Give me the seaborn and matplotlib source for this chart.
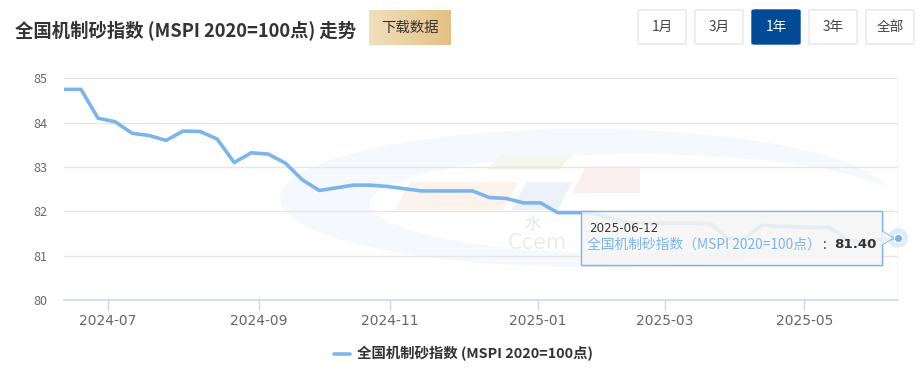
import numpy as np
import pandas as pd
import matplotlib
matplotlib.use("Agg")
import matplotlib.pyplot as plt
import seaborn as sns
from matplotlib.patches import FancyBboxPatch, Polygon, Ellipse
from matplotlib.colors import LinearSegmentedColormap

# ---------------- data ----------------
dates = pd.to_datetime([
    "2024-06-13", "2024-06-20", "2024-06-27", "2024-07-04", "2024-07-11", "2024-07-18",
    "2024-07-25", "2024-08-01", "2024-08-08", "2024-08-15", "2024-08-22", "2024-08-29",
    "2024-09-05", "2024-09-12", "2024-09-19", "2024-09-26", "2024-10-10", "2024-10-17",
    "2024-10-24", "2024-10-31", "2024-11-07", "2024-11-14", "2024-11-21", "2024-11-28",
    "2024-12-05", "2024-12-12", "2024-12-19", "2024-12-26", "2025-01-02", "2025-01-09",
    "2025-01-16", "2025-01-23", "2025-02-06", "2025-02-13", "2025-02-20", "2025-02-27",
    "2025-03-06", "2025-03-13", "2025-03-20", "2025-03-27", "2025-04-03", "2025-04-10",
    "2025-04-17", "2025-04-24", "2025-05-08", "2025-05-15", "2025-05-22", "2025-05-29",
    "2025-06-05", "2025-06-12",
])
values = [
    84.75, 84.75, 84.10, 84.02, 83.76, 83.71, 83.60, 83.81, 83.80, 83.63,
    83.10, 83.32, 83.29, 83.09, 82.71, 82.47, 82.53, 82.59, 82.59, 82.56,
    82.51, 82.46, 82.46, 82.46, 82.46, 82.31, 82.29, 82.19, 82.19, 81.97,
    81.97, 81.97, 81.85, 81.75, 81.73, 81.73, 81.73, 81.73, 81.72, 81.39,
    81.39, 81.69, 81.66, 81.65, 81.64, 81.63, 81.36, 81.30, 81.37, 81.40,
]
month_ticks = pd.to_datetime(["2024-07-01", "2024-09-01", "2024-11-01",
                              "2025-01-01", "2025-03-01", "2025-05-01"])
y_ticks = [80, 81, 82, 83, 84, 85]
series_name = "全国机制砂指数 (MSPI 2020=100点)"
tooltip_name = "全国机制砂指数（MSPI 2020=100点）"
title_text = "全国机制砂指数 (MSPI 2020=100点) 走势"
range_buttons = ["1月", "3月", "1年", "3年", "全部"]
active_button = "1年"

# ---------------- style ----------------
W, H = 921, 371
sns.set_theme(style="white")
plt.rcParams["font.family"] = ["Noto Sans CJK SC", "DejaVu Sans"]

LINE = "#7cb5ec"
fig = plt.figure(figsize=(W / 100, H / 100), dpi=100)


def fx(x):
    return x / W


def fy(y):
    return 1 - y / H


ax = fig.add_axes([fx(64), fy(300), fx(898) - fx(64), fy(78.3) - fy(300)])
ax.set_facecolor("none")

idx = np.arange(len(values))
df = pd.DataFrame({"idx": idx, "value": values, "date": dates})

# ---- faint watermark (behind) ----
wm_z = -5
fig.patches.append(Ellipse((fx(585), fy(198)), fx(610), fy(0) - fy(138),
                           transform=fig.transFigure, facecolor="#f5f8fc",
                           edgecolor="none", zorder=wm_z))
fig.patches.append(Ellipse((fx(635), fy(204)), fx(530), fy(0) - fy(100),
                           transform=fig.transFigure, facecolor="white",
                           edgecolor="none", zorder=wm_z))
for pts, col in [
    ([(487, 170), (500, 155), (572, 155), (558, 170)], "#f3f6ec"),
    ([(395, 210), (410, 182), (518, 182), (503, 210)], "#fdf3ed"),
    ([(512, 210), (526, 182), (572, 182), (558, 210)], "#edf1f8"),
    ([(572, 193), (585, 168), (640, 168), (640, 193)], "#fcefef"),
]:
    fig.patches.append(Polygon([(fx(a), fy(b)) for a, b in pts], closed=True,
                               transform=fig.transFigure, facecolor=col,
                               edgecolor="none", zorder=wm_z))
fig.text(fx(533), fy(224), "水", fontsize=12, color="#e3e7ed", ha="center",
         va="center", zorder=wm_z)
fig.text(fx(508), fy(243), "Ccem", fontsize=15, color="#ececec", ha="left",
         va="center", zorder=wm_z, family=["DejaVu Sans"])

# ---- line ----
sns.lineplot(data=df, x="idx", y="value", ax=ax, color=LINE, linewidth=2.6,
             label=series_name, legend=False, zorder=3, solid_joinstyle="round")

ax.set_xlim(idx[0], idx[-1])
ax.set_ylim(y_ticks[0], y_ticks[-1])
ax.set_yticks(y_ticks)
ax.set_yticklabels([str(v) for v in y_ticks])

tick_pos = np.interp(month_ticks.map(pd.Timestamp.toordinal),
                     dates.map(pd.Timestamp.toordinal), idx)
ax.set_xticks(tick_pos)
ax.set_xticklabels([d.strftime("%Y-%m") for d in month_ticks])
ax.set_xlabel("")
ax.set_ylabel("")

ax.grid(axis="y", color="#e6e6e6", linewidth=1)
ax.grid(axis="x", visible=False)
for s in ["top", "right", "left"]:
    ax.spines[s].set_visible(False)
ax.spines["bottom"].set_color("#ccd6eb")
ax.spines["bottom"].set_linewidth(1.2)
ax.tick_params(axis="x", length=7, width=1, color="#ccd6eb", pad=3,
               labelsize=8.8, labelcolor="#666666", bottom=True)
ax.tick_params(axis="y", length=0, pad=12, labelsize=9, labelcolor="#666666")
for lab in ax.get_xticklabels():
    lab.set_family(["Liberation Sans Narrow", "DejaVu Sans"])
    lab.set_fontsize(10)

ax.axvline(idx[-1], color="#d6dce6", linewidth=1, zorder=2)

ax.scatter([idx[-1]], [values[-1]], s=200, color=LINE, alpha=0.25,
           edgecolors="none", zorder=6, clip_on=False)
ax.scatter([idx[-1]], [values[-1]], s=38, color=LINE, edgecolors="white",
           linewidths=1, zorder=7, clip_on=False)

# ---- tooltip ----
tx0, ty0, tx1, ty1 = 581, 211, 882, 265
fig.patches.append(FancyBboxPatch((fx(tx0 + 2), fy(ty1 + 2)), fx(tx1 - tx0), fy(ty0) - fy(ty1),
                                  boxstyle="square,pad=0", transform=fig.transFigure,
                                  facecolor="#000000", alpha=0.06, edgecolor="none",
                                  zorder=8))
fig.patches.append(FancyBboxPatch((fx(tx0), fy(ty1)), fx(tx1 - tx0), fy(ty0) - fy(ty1),
                                  boxstyle="square,pad=0", transform=fig.transFigure,
                                  facecolor=(0.968, 0.968, 0.968, 0.88),
                                  edgecolor=LINE, linewidth=1, zorder=9))
fig.patches.append(Polygon([(fx(tx1 - 0.5), fy(231)), (fx(893), fy(238)),
                            (fx(tx1 - 0.5), fy(245))], closed=True,
                           transform=fig.transFigure,
                           facecolor=(0.968, 0.968, 0.968, 0.9), edgecolor="none",
                           zorder=9))
fig.lines.append(plt.Line2D([fx(tx1), fx(893), fx(tx1)], [fy(231), fy(238), fy(245)],
                            transform=fig.transFigure, color=LINE, linewidth=1,
                            zorder=9))
fig.text(fx(589), fy(228.5), dates[-1].strftime("%Y-%m-%d"), fontsize=8.6,
         color="#333333", ha="left", va="center", zorder=10,
         family=["DejaVu Sans"])
fig.text(fx(587), fy(245), tooltip_name, fontsize=9.9, color=LINE,
         ha="left", va="center", zorder=10)
fig.text(fx(823), fy(245), ":", fontsize=9.6, color="#333333", ha="left",
         va="center", zorder=10)
fig.text(fx(834), fy(245), f"{values[-1]:.2f}", fontsize=9.6, color="#333333",
         ha="left", va="center", fontweight="bold", zorder=10,
         family=["DejaVu Sans"])

# ---- title ----
fig.text(fx(15), fy(31), title_text, fontsize=13.2, fontweight="bold",
         color="#333333", ha="left", va="center")

# download button with gradient
bax = fig.add_axes([fx(369), fy(45), fx(451) - fx(369), fy(10) - fy(45)])
grad = np.linspace(0, 1, 256)[None, :]
gcm = LinearSegmentedColormap.from_list("gold", ["#f2e0bd", "#e3c084"])
bax.imshow(grad, aspect="auto", cmap=gcm, extent=[0, 1, 0, 1])
bax.set_axis_off()
bax.text(0.5, 0.5, "下载数据", fontsize=10.4, color="#333333", ha="center",
         va="center", transform=bax.transAxes)

# range buttons
bx = [638, 695, 752, 809, 866]
for x0, lab in zip(bx, range_buttons):
    active = lab == active_button
    fig.patches.append(FancyBboxPatch((fx(x0), fy(44)), fx(48), fy(10) - fy(44),
                                      boxstyle="round,pad=0,rounding_size=0.003",
                                      transform=fig.transFigure,
                                      facecolor="#004a96" if active else "white",
                                      edgecolor="#004a96" if active else "#e3e6ea",
                                      linewidth=1, zorder=2))
    fig.text(fx(x0 + 24), fy(27), lab, fontsize=9.8,
             color="white" if active else "#444444", ha="center", va="center",
             zorder=3)

# ---- legend ----
fig.lines.append(plt.Line2D([fx(334), fx(350)], [fy(354), fy(354)],
                            transform=fig.transFigure, color=LINE, linewidth=2.6))
fig.text(fx(357), fy(354), series_name, fontsize=10.4, fontweight="bold",
         color="#333333", ha="left", va="center")

fig.savefig("out.png", dpi=100)
